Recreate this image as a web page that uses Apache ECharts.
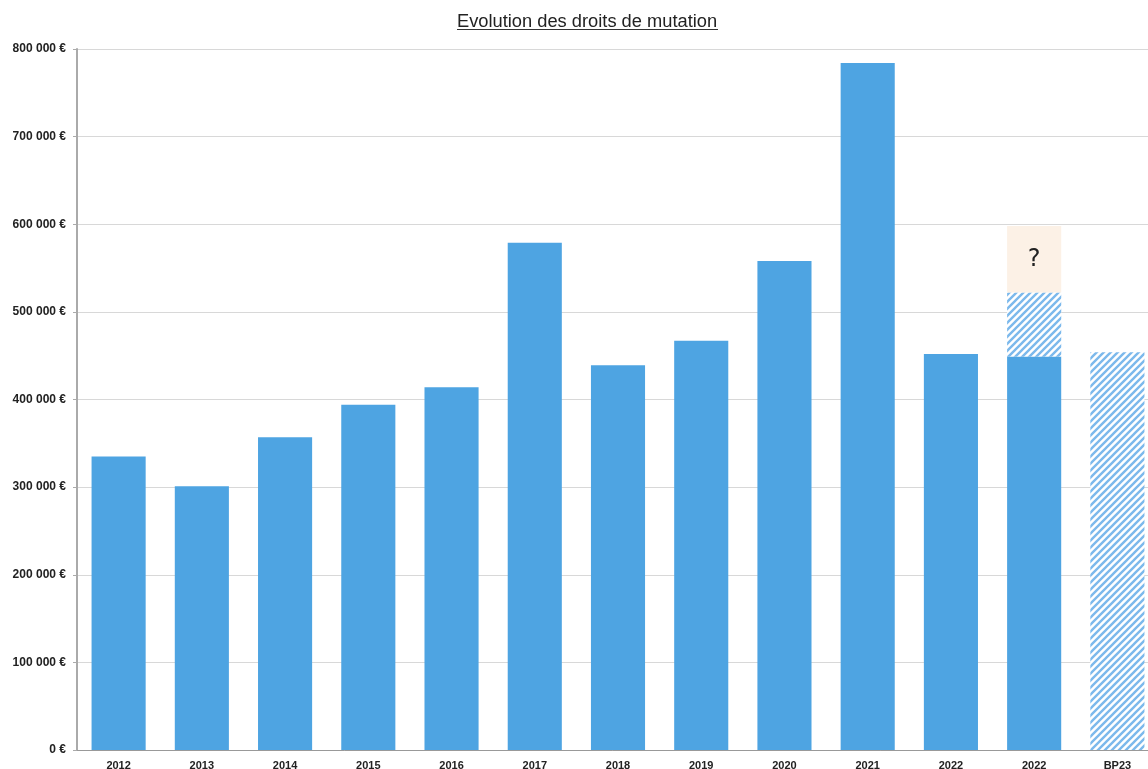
<!DOCTYPE html>
<html>
<head>
<meta charset="utf-8">
<script src="https://cdn.jsdelivr.net/npm/echarts@6/dist/echarts.min.js"></script>
<style>
  html, body { margin: 0; padding: 0; background: #ffffff; overflow: hidden; }
  #chart { width: 1148px; height: 769px; }
</style>
</head>
<body>
<div id="chart"></div>
<script>
// Droits de mutation encaissés par année (€)
const categories = ['2012', '2013', '2014', '2015', '2016', '2017', '2018', '2019', '2020', '2021', '2022', '2022', 'BP23'];
const realise = [335000, 301000, 357000, 394000, 414000, 579000, 439000, 467000, 558000, 784000, 452000, 449000, 0];
const projection = [null, null, null, null, null, null, null, null, null, null, null, 73000, 454000];
const incertitude = [null, null, null, null, null, null, null, null, null, null, null, 76000, null];
const yTicks = [0, 100000, 200000, 300000, 400000, 500000, 600000, 700000, 800000];

const BLUE = '#4ea4e2';
const HATCH = '#7cb9ec';

// Diagonal stripe fill for the projected amounts
function stripePattern() {
  const s = 7;
  const c = document.createElement('canvas');
  c.width = s; c.height = s;
  const g = c.getContext('2d');
  g.fillStyle = '#ffffff';
  g.fillRect(0, 0, s, s);
  g.strokeStyle = HATCH;
  g.lineWidth = 2.4;
  g.beginPath();
  g.moveTo(-1, s + 1); g.lineTo(s + 1, -1);
  g.moveTo(-1, 1); g.lineTo(1, -1);
  g.moveTo(s - 1, s + 1); g.lineTo(s + 1, s - 1);
  g.stroke();
  return c;
}

function formatEuro(v) {
  if (v === 0) return '0 €';
  return String(v).replace(/\B(?=(\d{3})+(?!\d))/g, ' ') + ' €';
}

const chart = echarts.init(document.getElementById('chart'), null, { renderer: 'canvas' });

chart.setOption({
  animation: false,
  backgroundColor: '#ffffff',
  title: {
    text: 'Evolution des droits de mutation',
    left: 452,
    top: 8,
    textStyle: { fontFamily: 'Liberation Sans, Arial, sans-serif', fontSize: 18.3, fontWeight: 'normal', color: '#222' }
  },
  graphic: [{
    type: 'line',
    shape: { x1: 457, y1: 29.5, x2: 718, y2: 29.5 },
    style: { stroke: '#333', lineWidth: 1.2 }
  }],
  // the last band runs past the right edge, so the grid is not fitted to the container
  grid: { left: 77, top: 49, width: 1082, height: 701, outerBoundsMode: 'none', containLabel: false },
  xAxis: {
    type: 'category',
    data: categories,
    axisLine: { show: true, lineStyle: { color: '#999', width: 1 } },
    axisTick: { show: false },
    axisLabel: {
      interval: 0,
      margin: 10,
      fontFamily: 'Liberation Sans, Arial, sans-serif',
      fontSize: 11, fontWeight: 'bold', color: '#222'
    }
  },
  yAxis: {
    type: 'value',
    min: 0, max: 800000, interval: 100000,
    axisLine: { show: true, lineStyle: { color: '#aaa', width: 2 } },
    axisTick: { show: true, length: 4, lineStyle: { color: '#aaa' } },
    splitLine: { show: true, lineStyle: { color: '#d8d8d8', width: 1 } },
    axisLabel: {
      margin: 11,
      fontFamily: 'Liberation Sans, Arial, sans-serif',
      fontSize: 12, fontWeight: 'bold', color: '#222',
      formatter: function (v) { return yTicks.indexOf(v) >= 0 ? formatEuro(v) : ''; }
    }
  },
  series: [
    {
      name: 'Réalisé',
      type: 'bar',
      stack: 'dmto',
      barWidth: '65%',
      data: realise,
      itemStyle: { color: BLUE }
    },
    {
      name: 'Projection',
      type: 'bar',
      stack: 'dmto',
      data: projection,
      itemStyle: { color: { image: stripePattern(), repeat: 'repeat' } }
    },
    {
      name: 'Incertitude',
      type: 'bar',
      stack: 'dmto',
      data: incertitude,
      itemStyle: { color: '#fcf1e6' },
      label: {
        show: true,
        position: 'inside',
        formatter: '?',
        fontFamily: 'DejaVu Sans, sans-serif',
        fontSize: 24,
        color: '#222'
      }
    }
  ]
});
</script>
</body>
</html>
